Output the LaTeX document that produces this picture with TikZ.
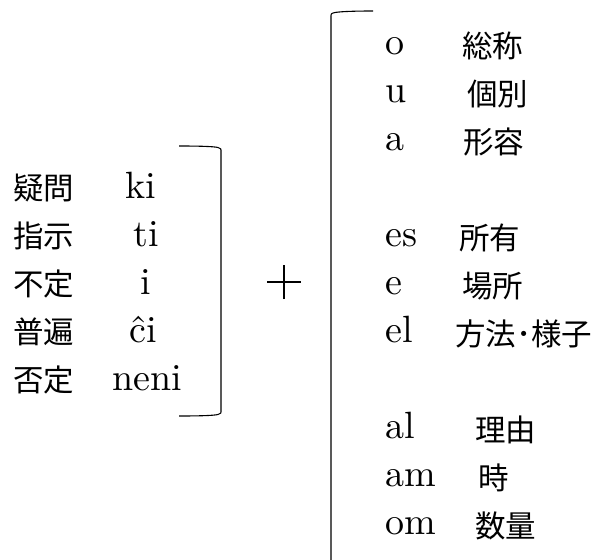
\documentclass[tikz,border=0pt]{standalone}
\usepackage{fontspec}
\setmainfont{lmroman10-regular.otf}
\newfontfamily\jp{Noto Sans CJK JP}
\begin{document}
\begin{tikzpicture}[x=1pt,y=-1pt,
  lat/.style={anchor=base west,inner sep=0pt,font=\fontsize{38}{44}\selectfont},
  latc/.style={anchor=base,inner sep=0pt,font=\fontsize{38}{44}\selectfont},
  ja/.style={anchor=base west,inner sep=0pt,font=\jp\fontsize{30.5}{36}\selectfont},
  brk/.style={line width=1.1pt,line join=round}]
\useasboundingbox (0,0) rectangle (598,560);
% left block
\node[ja] (j1) at (13,199) {疑問};
\node[ja] (j2) at (13,247) {指示};
\node[ja] (j3) at (13,295) {不定};
\node[ja] (j4) at (13,343) {普遍};
\node[ja] (j5) at (13,391) {否定};
\node[latc] (l1) at (141,198) {ki};
\node[latc] (l2) at (146,246) {ti};
\node[latc] (l3) at (146,294) {i};
\node[latc] (l4) at (143,342) {ĉi};
\node[latc] (l5) at (147,390) {neni};
\coordinate (b1a) at (179,146);
\coordinate (b1b) at (179,416);
\draw[brk] (b1a) .. controls (200,146) and (214,146.5) .. (218,147.5) .. controls (221,148.5) .. (221,152) -- (221,410) .. controls (221,413.5) .. (218,414.5) .. controls (214,415.5) and (200,416) .. (b1b);
% plus
\coordinate (pc) at (284,282);
\draw[line width=1.2pt] ([xshift=-17pt]pc) -- ([xshift=17pt]pc);
\draw[line width=1.2pt] ([yshift=-17pt]pc) -- ([yshift=17pt]pc);
% big bracket
\coordinate (b2a) at (373,11);
\coordinate (b2b) at (331,562);
\draw[brk] (b2a) .. controls (355,11) and (341,11.5) .. (335,12.5) .. controls (331,13.5) .. (331,17) -- (b2b);
% right block
\node[lat] (r1) at (385,54) {o};
\node[lat] (r2) at (385,102) {u};
\node[lat] (r3) at (385,150) {a};
\node[lat] (r4) at (385,246) {es};
\node[lat] (r5) at (385,294) {e};
\node[lat] (r6) at (385,342) {el};
\node[lat] (r7) at (385,438) {al};
\node[lat] (r8) at (385,486) {am};
\node[lat] (r9) at (385,534) {om};
\node[ja] (k1) at (462,57) {総称};
\node[ja] (k2) at (467,105) {個別};
\node[ja] (k3) at (463,153) {形容};
\node[ja] (k4) at (459,249) {所有};
\node[ja] (k5) at (462,297) {場所};
\node[ja] (k6) at (455,345) {方法･様子};
\node[ja] (k7) at (475,441) {理由};
\node[ja] (k8) at (478,489) {時};
\node[ja] (k9) at (475,537) {数量};
\end{tikzpicture}
\end{document}
